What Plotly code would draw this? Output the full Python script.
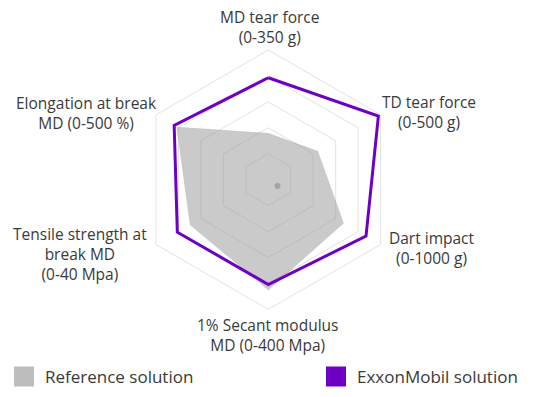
import plotly.graph_objects as go

categories = [
    "MD tear force<br>(0-350 g)",
    "TD tear force<br>(0-500 g)",
    "Dart impact<br>(0-1000 g)",
    "1% Secant modulus<br>MD (0-400 Mpa)",
    "Tensile strength at<br>break MD<br>(0-40 Mpa)",
    "Elongation at break<br>MD (0-500 %)",
]
reference_values = [1.8, 2.21, 3.36, 4.26, 3.49, 4.09]
exxon_values = [3.93, 4.9, 4.35, 4.04, 4.05, 4.19]
series_names = ["Reference solution", "ExxonMobil solution"]

GRAY_FILL = "rgba(150,150,150,0.5)"
GRAY_LEG = "#bdbdbd"
PURPLE = "#6e00c6"
TEXT = "#3a3a3a"
FONT = "Open Sans"
GRID = "#e2e2e2"

theta_closed = categories + [categories[0]]

fig = go.Figure()
fig.add_trace(go.Scatterpolar(
    r=reference_values + [reference_values[0]],
    theta=theta_closed,
    mode="lines",
    fill="toself",
    fillcolor=GRAY_FILL,
    line=dict(color="rgba(0,0,0,0)", width=0),
    name=series_names[0],
    showlegend=False,
))
fig.add_trace(go.Scatterpolar(
    r=exxon_values + [exxon_values[0]],
    theta=theta_closed,
    mode="lines",
    line=dict(color=PURPLE, width=3),
    name=series_names[1],
    showlegend=False,
))

cx, cy, R = 268.3, 179.7, 129.7
W, H = 533, 397
fig.update_layout(
    width=W, height=H,
    margin=dict(l=0, r=0, t=0, b=0),
    paper_bgcolor="white",
    plot_bgcolor="white",
    font=dict(family=FONT, color=TEXT, size=15),
    polar=dict(
        domain=dict(x=[(cx - R) / W, (cx + R) / W],
                    y=[(H - cy - R) / H, (H - cy + R) / H]),
        gridshape="linear",
        bgcolor="white",
        radialaxis=dict(range=[0, 5], dtick=1, showticklabels=False, ticks="",
                        showline=False, gridcolor=GRID, gridwidth=1),
        angularaxis=dict(rotation=90, direction="clockwise", showgrid=False,
                         showticklabels=False, ticks="", showline=True,
                         linecolor=GRID, linewidth=1,
                         categoryarray=categories, categoryorder="array"),
    ),
)

# small blurred dot near the centre seen in the reference
fig.add_shape(type="circle", xref="paper", yref="paper",
              x0=274.5 / W, x1=280.5 / W, y0=1 - 189 / H, y1=1 - 183 / H,
              fillcolor="rgba(120,120,120,0.45)", line=dict(width=0))

# Axis labels as annotations (pixel positions of the label block centres)
label_pos = [(269.5, 27), (429, 112), (432, 248), (267, 335), (79.5, 254), (86.7, 112.5)]
for text, (x, y) in zip(categories, label_pos):
    fig.add_annotation(x=x / W, y=1 - y / H,
                       xref="paper", yref="paper",
                       text=text, showarrow=False, align="center",
                       xanchor="center", yanchor="middle", borderpad=0,
                       font=dict(size=15.5, color=TEXT, family=FONT))

# Legend drawn manually
legend_items = [(14, GRAY_LEG, series_names[0]), (326, PURPLE, series_names[1])]
for x0, col, name in legend_items:
    fig.add_shape(type="rect", xref="paper", yref="paper",
                  x0=x0 / W, x1=(x0 + 20) / W,
                  y0=1 - 386.5 / H, y1=1 - 366.5 / H,
                  fillcolor=col, line=dict(width=0))
    fig.add_annotation(x=(x0 + 29) / W, y=1 - 376.5 / H, xref="paper", yref="paper",
                       text=name, showarrow=False, xanchor="left", yanchor="middle",
                       font=dict(size=17, color=TEXT, family=FONT))

fig.write_html("out.html")
